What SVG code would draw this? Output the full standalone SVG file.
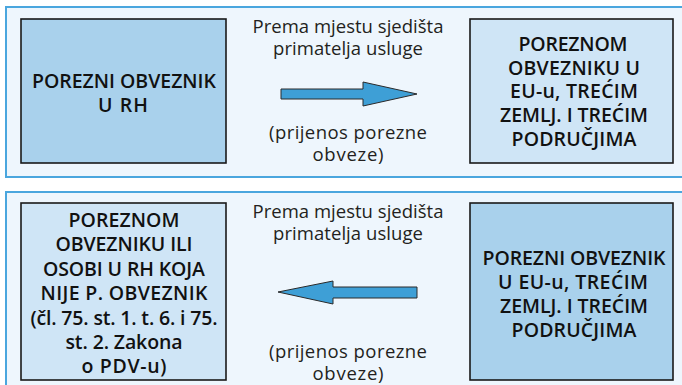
<svg xmlns="http://www.w3.org/2000/svg" width="682" height="385" viewBox="0 0 682 385">
<style>
.panel{fill:#eef6fd;stroke:#4aa6de;stroke-width:2}
.boxA{fill:#a9d1ec;stroke:#1a1a1a;stroke-width:1.6}
.boxB{fill:#cfe5f6;stroke:#1a1a1a;stroke-width:1.6}
.arrow{fill:#3e9fd6;stroke:#2a2a2a;stroke-width:1}
text{font-family:"Open Sans","Liberation Sans",sans-serif;font-stretch:90%;font-weight:600;fill:#111;text-anchor:middle}
.bt{font-size:19.5px}
.mt{font-size:18.5px;font-weight:400;font-stretch:92%;fill:#231f20}
</style>
<rect class="panel" x="6" y="7" width="690" height="170"/>
<rect class="panel" x="6" y="192" width="690" height="210"/>
<g id="n1">
<rect class="boxA" x="21" y="19" width="205" height="144"/>
<text class="bt" x="124" y="88" textLength="184">POREZNI OBVEZNIK</text>
<text class="bt" x="123" y="112" textLength="50">U RH</text>
</g>
<g id="n2">
<rect class="boxB" x="470" y="19" width="203" height="144"/>
<text class="bt" x="573" y="51" textLength="109">POREZNOM</text>
<text class="bt" x="574" y="75" textLength="132">OBVEZNIKU U</text>
<text class="bt" x="574" y="98" textLength="128">EU-u, TREĆIM</text>
<text class="bt" x="574" y="122" textLength="148">ZEMLJ. I TREĆIM</text>
<text class="bt" x="574" y="146" textLength="125">PODRUČJIMA</text>
</g>
<g id="n3">
<rect class="boxB" x="21" y="203" width="205" height="177"/>
<text class="bt" x="124" y="227" textLength="111">POREZNOM</text>
<text class="bt" x="124" y="251" textLength="137">OBVEZNIKU ILI</text>
<text class="bt" x="124" y="276" textLength="162">OSOBI U RH KOJA</text>
<text class="bt" x="124" y="300" textLength="167">NIJE P. OBVEZNIK</text>
<text class="bt" x="124" y="325" textLength="187">(čl. 75. st. 1. t. 6. i 75.</text>
<text class="bt" x="124" y="349" textLength="117">st. 2. Zakona</text>
<text class="bt" x="124" y="373" textLength="85">o PDV-u)</text>
</g>
<g id="n4">
<rect class="boxA" x="470" y="203" width="203" height="177"/>
<text class="bt" x="574" y="265" textLength="183">POREZNI OBVEZNIK</text>
<text class="bt" x="573" y="289" textLength="150">U EU-u, TREĆIM</text>
<text class="bt" x="574" y="313" textLength="148">ZEMLJ. I TREĆIM</text>
<text class="bt" x="574" y="337" textLength="125">PODRUČJIMA</text>
</g>
<g id="connectors">
<polygon class="arrow" points="281,89 363,89 363,82 417,94 363,106 363,99 281,99"/>
<text class="mt" x="348" y="33" textLength="191">Prema mjestu sjedišta</text>
<text class="mt" x="348" y="55" textLength="150">primatelja usluge</text>
<text class="mt" x="348" y="139" textLength="158">(prijenos porezne</text>
<text class="mt" x="348" y="161" textLength="71">obveze)</text>
<polygon class="arrow" points="417,287 333,287 333,281 278,292 333,304 333,298 417,298"/>
<text class="mt" x="348" y="218" textLength="191">Prema mjestu sjedišta</text>
<text class="mt" x="348" y="240" textLength="150">primatelja usluge</text>
<text class="mt" x="348" y="358" textLength="158">(prijenos porezne</text>
<text class="mt" x="348" y="380" textLength="71">obveze)</text>
</g>
</svg>
